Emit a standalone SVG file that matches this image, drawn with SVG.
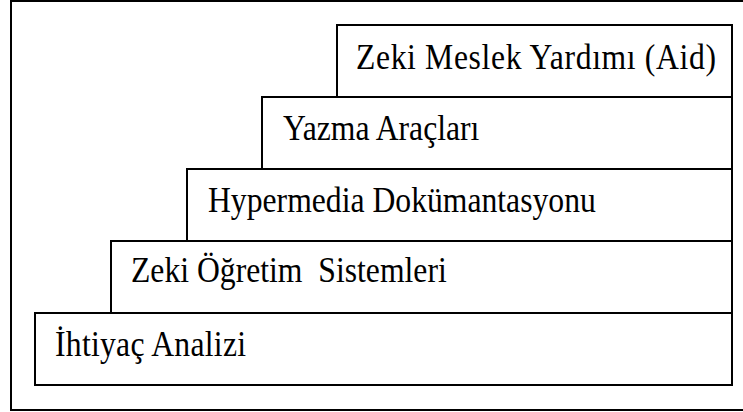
<svg xmlns="http://www.w3.org/2000/svg" width="743" height="412" viewBox="0 0 743 412">
  <style>
    .frame { fill: #fff; stroke: #000; stroke-width: 2; }
    .step { fill: #fff; stroke: #000; stroke-width: 2; }
    .label { font-family: "Liberation Serif", "Times New Roman", serif; font-size: 33px; fill: #000; }
  </style>
  <rect width="743" height="412" fill="#fff"/>
  <!-- outer frame (right side runs past the canvas) -->
  <rect class="frame" x="11" y="1" width="745" height="409"/>
  <g id="connectors"></g>
  <g id="step-ihtiyac">
    <rect class="step" x="35" y="313" width="697" height="72"/>
    <text class="label" transform="translate(55 356) scale(0.96 1.07)" textLength="199" lengthAdjust="spacing">İhtiyaç Analizi</text>
  </g>
  <g id="step-zeki-ogretim">
    <rect class="step" x="111" y="241" width="621" height="72"/>
    <text class="label" transform="translate(131 282) scale(0.96 1.07)" xml:space="preserve">Zeki Öğretim  Sistemleri</text>
  </g>
  <g id="step-hypermedia">
    <rect class="step" x="187" y="169" width="545" height="72"/>
    <text class="label" transform="translate(208 212) scale(0.96 1.07)">Hypermedia Dokümantasyonu</text>
  </g>
  <g id="step-yazma">
    <rect class="step" x="262" y="97" width="470" height="72"/>
    <text class="label" transform="translate(283 140) scale(0.96 1.07)">Yazma Araçları</text>
  </g>
  <g id="step-zeki-meslek">
    <rect class="step" x="337" y="25" width="395" height="72"/>
    <text class="label" transform="translate(356 69) scale(0.96 1.07)" textLength="375" lengthAdjust="spacing">Zeki Meslek Yardımı (Aid)</text>
  </g>
</svg>
